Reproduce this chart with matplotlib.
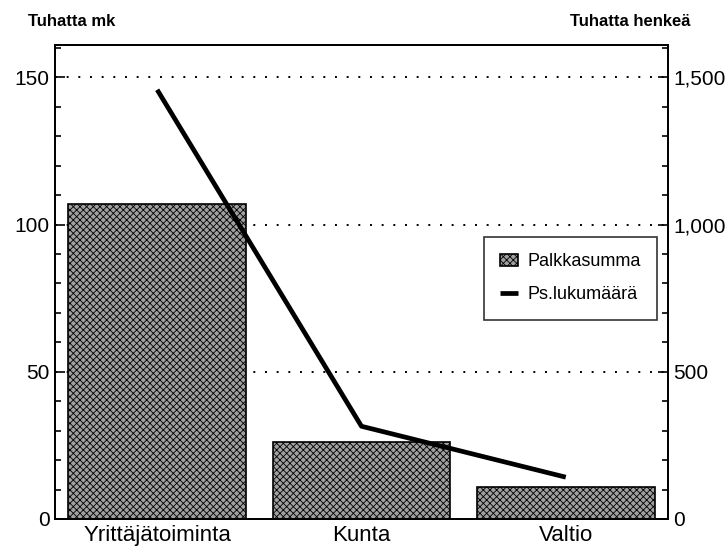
import matplotlib.pyplot as plt
from matplotlib.ticker import MultipleLocator, FuncFormatter

plt.rcParams['font.family'] = ['Liberation Sans', 'DejaVu Sans']
plt.rcParams['hatch.linewidth'] = 0.6

categories = ["Yrittäjätoiminta", "Kunta", "Valtio"]
palkkasumma = [107, 26, 11]          # tuhatta mk
lukumaara = [1458, 315, 142]         # tuhatta henkeä

fig = plt.figure(figsize=(7.26, 5.53), dpi=100)
ax = fig.add_axes([0.0758, 0.0615, 0.8442, 0.8571])
ax2 = ax.twinx()

x = list(range(len(categories)))
bars = ax.bar(x, palkkasumma, width=0.87, facecolor="#a0a0a0", edgecolor="black",
              hatch="xxxxx", linewidth=1.2, label="Palkkasumma", zorder=2)
line, = ax2.plot(x, lukumaara, color="black", linewidth=3.4, label="Ps.lukumäärä",
                 solid_capstyle="butt", zorder=3)

ax.set_xlim(-0.5, 2.5)
ax.set_ylim(0, 161)
ax2.set_ylim(0, 1610)

ax.yaxis.set_major_locator(MultipleLocator(50))
ax.yaxis.set_minor_locator(MultipleLocator(10))
ax2.yaxis.set_major_locator(MultipleLocator(500))
ax2.yaxis.set_minor_locator(MultipleLocator(100))
ax2.yaxis.set_major_formatter(FuncFormatter(lambda v, p: f"{int(v):,}"))

for a in (ax, ax2):
    a.tick_params(axis="y", which="major", direction="in", length=7, width=1.2,
                  labelsize=15, pad=4)
    a.tick_params(axis="y", which="minor", direction="in", length=4, width=1.2)
    for s in a.spines.values():
        s.set_linewidth(1.3)

ax.set_xticks(x)
ax.set_xticklabels(categories, fontsize=16)
ax.tick_params(axis="x", length=0, pad=4)

ax.grid(axis="y", which="major", linestyle=(0, (1, 5)), color="black", linewidth=1.4, zorder=1)
ax.set_axisbelow(True)

fig.text(0.038, 0.962, "Tuhatta mk", fontsize=12, fontweight="bold", va="center", ha="left")
fig.text(0.951, 0.962, "Tuhatta henkeä", fontsize=12, fontweight="bold", va="center", ha="right")

leg = ax2.legend([bars, line], ["Palkkasumma", "Ps.lukumäärä"], loc="upper left",
                 bbox_to_anchor=(0.70, 0.595), fontsize=13, frameon=True, fancybox=False,
                 borderpad=0.9, handlelength=1.0, handletextpad=0.5, labelspacing=0.9,
                 borderaxespad=0)
leg.get_frame().set_edgecolor("black")
leg.get_frame().set_linewidth(1.2)

fig.savefig("out.png", dpi=100)
